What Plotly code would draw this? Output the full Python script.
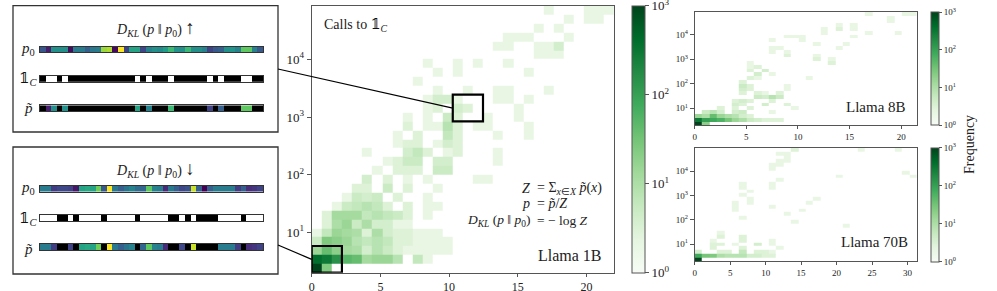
import numpy as np
import plotly.graph_objects as go

W, H = 997, 291
SERIF = "Liberation Serif"

# ---------------- data ----------------
N_BINS = 30
KL_MAX_1B, KL_MAX_8B, KL_MAX_70B = 22.0, 21.5, 31.3
CALLS_MIN, CALLS_MAX = 2.0, 85000.0
CALLS_MIN_70B, CALLS_MAX_70B = 1.95, 94000.0

# histogram counts: one dict per log-calls bin (bottom -> top), {kl_bin: count}
HIST_1B = [
    {0: 1000, 1: 25},
    {0: 400, 1: 300, 2: 150, 3: 50, 4: 40, 5: 12, 6: 15, 7: 15, 8: 8, 10: 6, 11: 2},
    {0: 15, 1: 40, 2: 20, 3: 12, 4: 10, 5: 4, 6: 8, 7: 5, 8: 3, 9: 2, 10: 2, 11: 2, 12: 2, 13: 2},
    {0: 5, 1: 25, 2: 20, 3: 15, 4: 8, 5: 6, 6: 8, 7: 6, 8: 3, 9: 3, 10: 2, 11: 2, 12: 2, 13: 2},
    {0: 2, 1: 6, 2: 15, 3: 12, 4: 10, 5: 3, 6: 10, 7: 4, 8: 3, 9: 3, 10: 2, 11: 2, 12: 2},
    {1: 3, 2: 10, 3: 15, 4: 5, 5: 10, 6: 4, 7: 4, 8: 2, 9: 2},
    {1: 3, 2: 12, 3: 12, 4: 12, 5: 6, 6: 8, 7: 6, 8: 5, 9: 3, 11: 2},
    {2: 2, 3: 5, 4: 6, 5: 8, 6: 6, 7: 3, 9: 3, 11: 2, 12: 2},
    {3: 2, 4: 5, 5: 4, 6: 5, 8: 3, 11: 2},
    {4: 3, 5: 3, 7: 5, 9: 3, 12: 2},
    {5: 4, 7: 3, 9: 2, 11: 2, 16: 2, 17: 2},
    {6: 2, 8: 3, 9: 3, 10: 3, 12: 5, 13: 5},
    {7: 2, 8: 3, 9: 5, 10: 5, 12: 4, 13: 4, 18: 2},
    {5: 2, 9: 4, 10: 6, 11: 3, 13: 2, 14: 3, 18: 2},
    {8: 2, 9: 3, 10: 3, 12: 2, 13: 4, 14: 3},
    {8: 2, 10: 3, 13: 6, 14: 3, 18: 2, 21: 2},
    {9: 3, 11: 2, 12: 2, 13: 8, 14: 3, 16: 2, 17: 2, 21: 2},
    {9: 2, 11: 2, 13: 5, 14: 3, 17: 2, 20: 2},
    {11: 2, 12: 3, 14: 4, 15: 3, 20: 2},
    {11: 2, 12: 4, 13: 4, 14: 2, 18: 2, 19: 2, 21: 2},
    {12: 2, 15: 2, 18: 2, 19: 2, 23: 2},
    {10: 2},
    {12: 2, 14: 2, 21: 2},
    {11: 2, 14: 2, 16: 2, 19: 2},
    {22: 2, 23: 2, 24: 2},
    {18: 2, 19: 2, 22: 2, 23: 2, 24: 4},
    {19: 2, 20: 2, 21: 2, 25: 2},
    {22: 2, 24: 2},
    {25: 2, 27: 2, 28: 2},
    {23: 2, 27: 2, 28: 2, 29: 2},
]

HIST_8B = [
    {0: 1000, 1: 20},
    {0: 300, 1: 100, 2: 80, 3: 60, 4: 30, 5: 15, 6: 10, 7: 5, 8: 4, 9: 3, 10: 3, 11: 3},
    {0: 15, 1: 10, 2: 40, 3: 15, 4: 10, 5: 8, 6: 4, 7: 3},
    {1: 5, 2: 8, 3: 4, 5: 4, 6: 5, 10: 2},
    {3: 3, 5: 3, 7: 3, 13: 2},
    {5: 4, 6: 3, 9: 4, 12: 3},
    {5: 3, 6: 4, 7: 3, 10: 3},
    {8: 5, 9: 4, 10: 8, 11: 5},
    {6: 3, 8: 3, 9: 2, 11: 3},
    {6: 4, 7: 3, 12: 2},
    {6: 5, 7: 3, 12: 2},
    {6: 3},
    {7: 3, 8: 2, 15: 2},
    {8: 4, 10: 2},
    {7: 3, 9: 4},
    {7: 2, 8: 3},
    {7: 2, 18: 3},
    {16: 3, 18: 2},
    {12: 3, 16: 2},
    {10: 2, 12: 2},
    {10: 2, 11: 2, 19: 2},
    {16: 2, 20: 2},
    {10: 2, 14: 2},
    {12: 2, 13: 2, 14: 2, 21: 2},
    {17: 2, 23: 2, 27: 2},
    {17: 2, 19: 3, 21: 2},
    {19: 2, 21: 2},
    {26: 2},
    {26: 2},
    {23: 2, 28: 2, 29: 2},
]

HIST_70B = [
    {0: 1000},
    {0: 80, 1: 30, 2: 25, 3: 10, 4: 8, 5: 8, 6: 8, 7: 4, 8: 4, 9: 3, 10: 3},
    {0: 4, 3: 3, 4: 3, 6: 6, 8: 3, 9: 3, 10: 2},
    {2: 3, 6: 3, 11: 2},
    {2: 3, 3: 3, 5: 2, 8: 4, 10: 2},
    {2: 2, 6: 3, 10: 2},
    {3: 3, 6: 3},
    {3: 2},
    {},
    {20: 2},
    {13: 2},
    {6: 2},
    {12: 2},
    {5: 2, 14: 2},
    {5: 2, 10: 2},
    {5: 2, 7: 2, 15: 2},
    {7: 2, 16: 2},
    {6: 2},
    {7: 2},
    {6: 2, 10: 2},
    {6: 2, 10: 2},
    {11: 2},
    {19: 2, 29: 2},
    {28: 2},
    {10: 2},
    {10: 2, 11: 2},
    {11: 2, 12: 2},
    {12: 2},
    {11: 2, 12: 2},
    {13: 3, 22: 2, 27: 2},
]

# illustration vectors (viridis-normalised p0 values and membership indicator)
P0_TOP = [0.27, 0.08, 0.50, 0.50, 0.50, 0.03, 0.42, 0.42, 0.30, 0.40,
          0.42, 0.85, 0.88, 0.02, 1.00, 0.20, 0.58, 0.58, 0.22, 0.45,
          0.50, 0.48, 0.55, 0.68, 0.52, 0.50, 0.68, 0.50, 0.50, 0.45,
          0.20, 0.28, 0.30, 0.50, 0.52, 0.45, 0.75, 0.75, 0.45, 0.28]
IND_TOP = [0, 1, 1, 0, 1, 0, 0, 0, 0, 0, 0, 0, 0, 0, 0, 0, 0, 1, 0, 1,
           0, 0, 0, 1, 0, 0, 0, 0, 0, 0, 1, 0, 1, 0, 0, 0, 1, 1, 0, 0]
P0_BOT = [0.42, 0.42, 0.18, 0.22, 0.22, 0.20, 0.06, 0.58, 0.60, 0.58,
          0.78, 0.28, 1.00, 0.40, 0.30, 0.38, 0.45, 0.35, 0.33, 0.75,
          0.45, 0.42, 0.12, 0.40, 0.30, 0.22, 0.25, 0.92, 0.30, 0.00,
          0.30, 0.42, 0.42, 0.42, 0.42, 0.18, 0.30, 0.13, 0.15, 0.20]
IND_BOT = [1, 1, 1, 0, 0, 1, 0, 1, 1, 1, 1, 0, 1, 1, 1, 1, 1, 0, 1, 1,
           1, 1, 1, 0, 0, 1, 0, 1, 0, 0, 0, 0, 1, 1, 1, 1, 0, 1, 1, 1]

COUNT_TICKS = [0, 1, 2, 3]
COUNT_TICKTEXT = ["10<sup>0</sup>", "10<sup>1</sup>", "10<sup>2</sup>", "10<sup>3</sup>"]
CALL_TICKS = [10, 100, 1000, 10000]
CALL_TICKTEXT = ["10<sup>1</sup>", "10<sup>2</sup>", "10<sup>3</sup>", "10<sup>4</sup>"]

GREENS = ["#f7fcf5", "#e5f5e0", "#c7e9c0", "#a1d99b", "#74c476",
          "#41ab5d", "#238b45", "#006d2c", "#00441b"]
GREENS_SCALE = [[i / (len(GREENS) - 1), c] for i, c in enumerate(GREENS)]

INDICATOR = "<span style='font-family:DejaVu Serif;color:#111111'>𝟙</span>"


def PX(x):
    return x / W


def PY(y):
    return 1 - y / H


def hist_matrix(hist):
    z = np.full((N_BINS, N_BINS), np.nan)
    for j, row in enumerate(hist):
        for i, c in row.items():
            z[j, i] = np.log10(c)
    return z


fig = go.Figure()

panels = [
    # hist, kl max, calls range, suffix, x px, y px, cbar x, cbar thickness, x/y tick font, cbar font
    (HIST_1B, KL_MAX_1B, CALLS_MIN, CALLS_MAX, "", (311.7, 614.0), (5.7, 272.7), 632, 13, (12, 13), 13),
    (HIST_8B, KL_MAX_8B, CALLS_MIN, CALLS_MAX, "2", (694.7, 916.7), (12.0, 125.3), 931, 8, (9, 9), 9),
    (HIST_70B, KL_MAX_70B, CALLS_MIN_70B, CALLS_MAX_70B, "3", (694.7, 916.7), (147.7, 261.3), 931, 8, (9, 9), 9),
]

axis_common = dict(showgrid=False, zeroline=False, showline=True, mirror=True,
                   linecolor="#555", linewidth=1, ticks="outside", ticklen=4,
                   tickcolor="#555", tickwidth=1, automargin=False,
                   ticklabeloverflow="allow")

layout_axes = {}
for hist, klmax, cmin, cmax, sfx, xdom, ydom, cbx, cbt, tfs, cfs in panels:
    x_edges = np.linspace(0, klmax, N_BINS + 1)
    y_edges = np.logspace(np.log10(cmin), np.log10(cmax), N_BINS + 1)
    z = hist_matrix(hist)
    fig.add_trace(go.Heatmap(
        x=x_edges, y=y_edges, z=z, colorscale=GREENS_SCALE, zmin=0, zmax=3,
        xaxis="x" + sfx, yaxis="y" + sfx, hoverinfo="skip",
        colorbar=dict(
            x=PX(cbx), xanchor="left", xpad=0, ypad=0,
            y=PY((ydom[0] + ydom[1]) / 2), yanchor="middle",
            len=ydom[1] - ydom[0], lenmode="pixels",
            thickness=cbt, thicknessmode="pixels",
            outlinewidth=1, outlinecolor="#555",
            tickvals=COUNT_TICKS, ticktext=COUNT_TICKTEXT,
            ticks="outside", ticklen=3 if cbt < 10 else 4, tickcolor="#555",
            ticklabeloverflow="allow",
            tickfont=dict(family=SERIF, size=cfs, color="#222"),
        ),
    ))
    xticks = list(range(0, int(klmax) + 1, 5))
    layout_axes["xaxis" + sfx] = dict(
        axis_common, domain=[PX(xdom[0]), PX(xdom[1])], range=[0, klmax],
        tickvals=xticks, anchor="y" + sfx, ticklen=3,
        tickfont=dict(family=SERIF, size=tfs[0], color="#222"))
    layout_axes["yaxis" + sfx] = dict(
        axis_common, domain=[PY(ydom[1]), PY(ydom[0])], type="log",
        range=[np.log10(cmin), np.log10(cmax)], tickvals=CALL_TICKS,
        ticktext=CALL_TICKTEXT, anchor="x" + sfx,
        tickfont=dict(family=SERIF, size=tfs[1], color="#222"))

# ---- illustration bars ----
bar_x = (40, 263)
bar_rows = [
    (P0_TOP, IND_TOP, [(46.7, 52.3), (76.0, 81.7), (105.3, 111.0)]),
    (P0_BOT, IND_BOT, [(185.7, 191.7), (215.0, 221.0), (244.0, 250.3)]),
]
ax_id = 4
for p0, ind, ypos in bar_rows:
    p0 = np.array(p0, dtype=float)
    ind = np.array(ind, dtype=float)
    ptilde = np.where(ind > 0, p0, np.nan)
    black = np.where(ind > 0, np.nan, 0.0)
    specs = [
        [(p0, "Viridis")],
        [(ind, [[0, "black"], [1, "white"]])],
        [(black, [[0, "black"], [1, "black"]]), (ptilde, "Viridis")],
    ]
    for (y0, y1), traces in zip(ypos, specs):
        sfx = str(ax_id)
        for zz, cs in traces:
            fig.add_trace(go.Heatmap(
                z=[zz], x=np.arange(len(zz)), y=[0], colorscale=cs, zmin=0, zmax=1,
                showscale=False, xaxis="x" + sfx, yaxis="y" + sfx, hoverinfo="skip"))
        layout_axes["xaxis" + sfx] = dict(
            domain=[PX(bar_x[0]), PX(bar_x[1])], range=[-0.5, len(p0) - 0.5],
            showticklabels=False, ticks="", showgrid=False, zeroline=False,
            showline=True, mirror=True, linecolor="#333", linewidth=1,
            anchor="y" + sfx, automargin=False)
        layout_axes["yaxis" + sfx] = dict(
            domain=[PY(y1), PY(y0)], range=[-0.5, 0.5], showticklabels=False,
            ticks="", showgrid=False, zeroline=False, showline=True, mirror=True,
            linecolor="#333", linewidth=1, anchor="x" + sfx, automargin=False)
        ax_id += 1

# ---- shapes ----
x_edges_1b = np.linspace(0, KL_MAX_1B, N_BINS + 1)
y_edges_1b = np.logspace(np.log10(CALLS_MIN), np.log10(CALLS_MAX), N_BINS + 1)


def main_px(xv, yv):
    x0, x1 = 311.7, 614.0
    y0, y1 = 272.7, 5.7
    lx = x0 + (xv / KL_MAX_1B) * (x1 - x0)
    t = (np.log10(yv) - np.log10(CALLS_MIN)) / (np.log10(CALLS_MAX) - np.log10(CALLS_MIN))
    ly = y0 + t * (y1 - y0)
    return lx, ly


shapes = []
for (y0, y1) in [(5.7, 132.0), (147.0, 274.0)]:
    shapes.append(dict(type="rect", xref="paper", yref="paper", x0=PX(13), x1=PX(278),
                       y0=PY(y1), y1=PY(y0), line=dict(color="#333", width=1.3)))
zoom_boxes = [((14, 17), (17, 20), 69.0), ((0, 3), (0, 3), 245.0)]
for (i0, i1), (j0, j1), ystart in zoom_boxes:
    shapes.append(dict(type="rect", xref="x", yref="y",
                       x0=x_edges_1b[i0], x1=x_edges_1b[i1],
                       y0=y_edges_1b[j0], y1=y_edges_1b[j1],
                       line=dict(color="black", width=2.2)))
    lx, ly = main_px(x_edges_1b[i0], np.sqrt(y_edges_1b[j0] * y_edges_1b[j1]))
    shapes.append(dict(type="line", xref="paper", yref="paper",
                       x0=PX(278), y0=PY(ystart), x1=PX(lx), y1=PY(ly),
                       line=dict(color="black", width=1.2)))

# ---- annotations ----
ann = []


def text(x, y, s, size, xanchor="center", angle=0, color="#222"):
    ann.append(dict(x=PX(x), y=PY(y), xref="paper", yref="paper", text=s,
                    showarrow=False, xanchor=xanchor, yanchor="middle",
                    textangle=angle, font=dict(family=SERIF, size=size, color=color)))


text(321.7, 25, "Calls to " + INDICATOR + "<sub><i>C</i></sub>", 14, "left")
text(604, 255, "Llama 1B", 16, "right")
text(908, 107.3, "Llama 8B", 15, "right")
text(910, 241.7, "Llama 70B", 15, "right")
text(969, 145, "Frequency", 14, "center", angle=-90)

EQ_X = 534
eqs = [
    (188, "<i>Z</i>", "= Σ<sub><i>x</i>∈<i>X</i></sub> <i>p̃</i>(<i>x</i>)", 14),
    (203.5, "<i>p</i>", "= <i>p̃</i>/<i>Z</i>", 14),
    (220, "<i>D<sub>KL</sub></i> (<i>p</i> ‖ <i>p</i><sub>0</sub>)", "= − log <i>Z</i>", 13.5),
]
for y, lhs, rhs, fs in eqs:
    text(EQ_X - 2, y, lhs, fs, "right")
    text(EQ_X + 1, y, rhs, fs, "left")

for dy, arrow in [(0, "↑"), (141.3, "↓")]:
    text(155, 28 + dy, "<i>D<sub>KL</sub></i> (<i>p</i> ‖ <i>p</i><sub>0</sub>) "
         "<span style='font-size:19px'><b>" + arrow + "</b></span>", 14)
    text(28, 49 + dy - (2 if dy else 0), "<i>p</i><sub>0</sub>", 15)
    text(28, 79 + dy - (2 if dy else 0), INDICATOR + "<sub><i>C</i></sub>", 15)
    text(28, 108 + dy, "<i>p̃</i>", 15)

fig.update_layout(
    width=W, height=H, autosize=False,
    margin=dict(l=0, r=0, t=0, b=0, pad=0, autoexpand=False),
    paper_bgcolor="white", plot_bgcolor="white",
    showlegend=False, shapes=shapes, annotations=ann,
    font=dict(family=SERIF, color="#222"),
    **layout_axes,
)

fig.write_html(
    "out.html",
    config={"displayModeBar": False, "staticPlot": True},
    post_script="document.body.style.margin='0';document.body.style.padding='0';"
                "document.documentElement.style.overflow='hidden';",
)
